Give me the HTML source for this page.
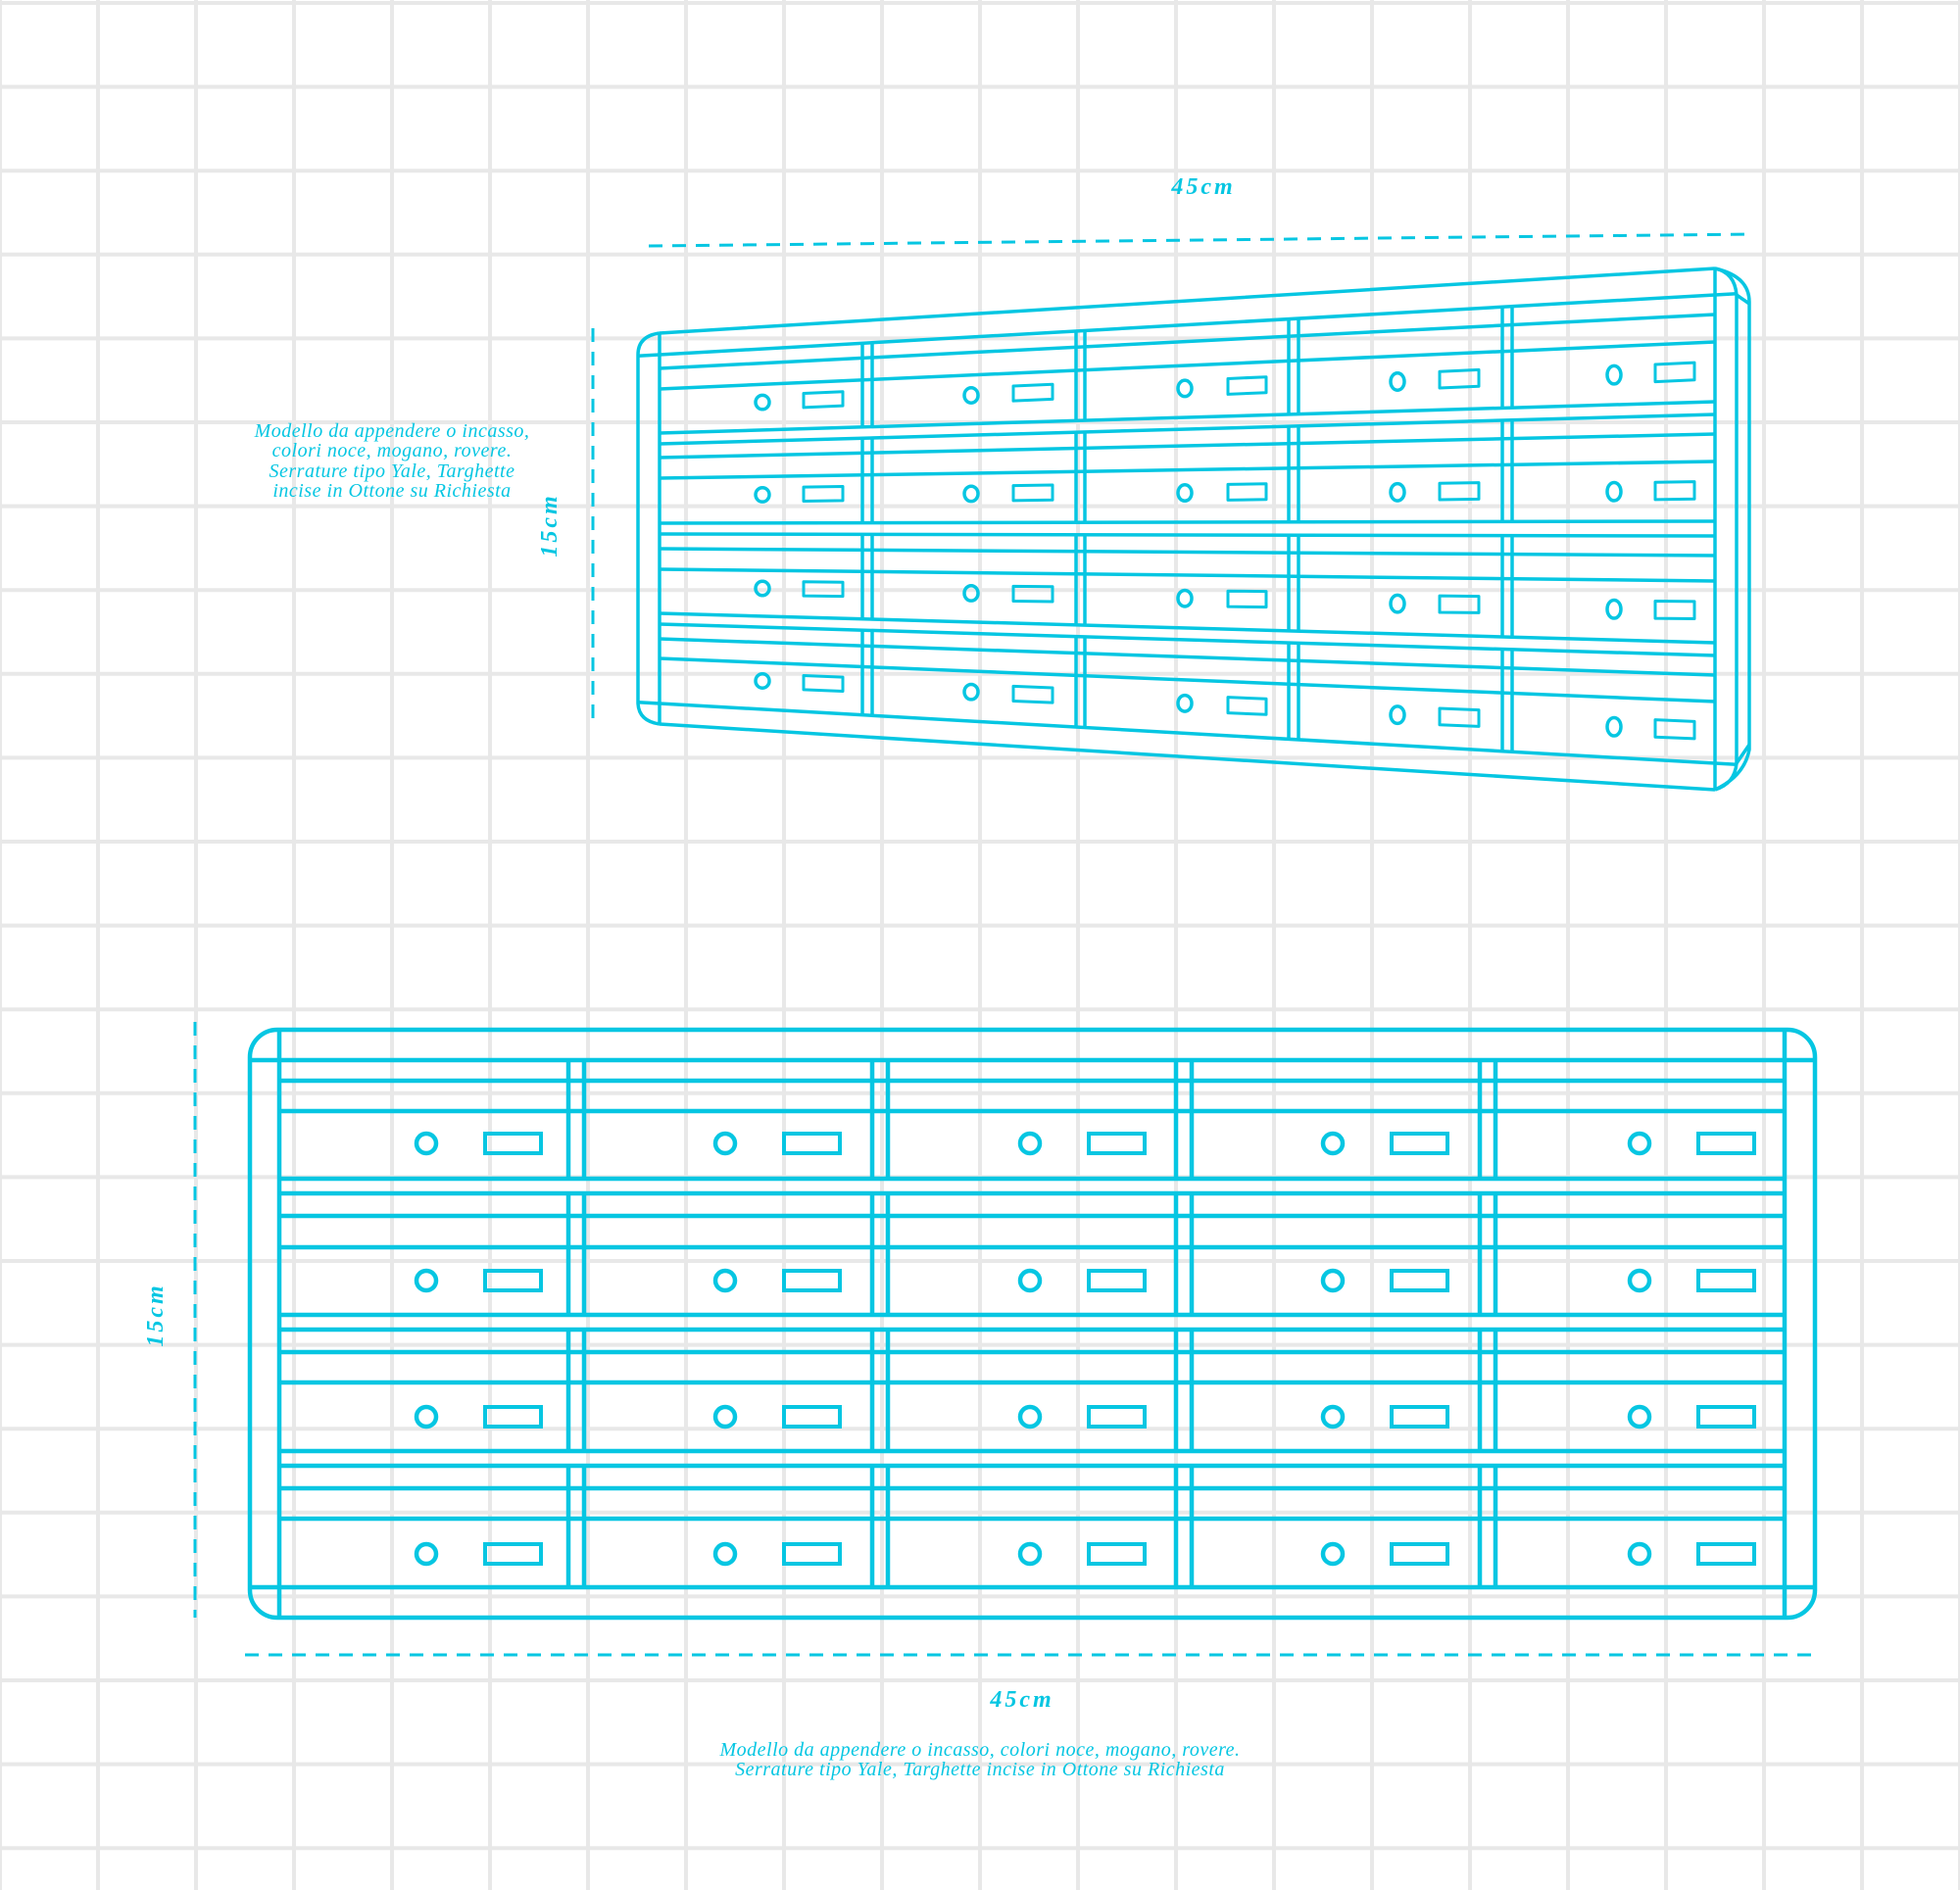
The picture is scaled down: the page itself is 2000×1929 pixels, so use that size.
<!DOCTYPE html>
<html><head><meta charset="utf-8"><style>
html,body{margin:0;padding:0;background:#fff;}
svg{display:block;}
text{font-family:"Liberation Serif","DejaVu Serif",serif;font-style:italic;fill:#06c6e2;}
</style></head><body>
<svg id="s" width="2000" height="1929" viewBox="0 0 2000 1929" xmlns="http://www.w3.org/2000/svg">
<g id="grid" stroke="#e8e8e8" stroke-width="4"></g>
<g id="top" fill="none" stroke="#06c6e2" stroke-width="3.5" stroke-linejoin="round"></g>
<g id="bot" fill="none" stroke="#06c6e2" stroke-width="4.5"></g>
<g fill="none" stroke="#06c6e2" stroke-width="3" stroke-dasharray="14 10">
<line x1="662" y1="251" x2="1786" y2="239"/>
<line x1="605" y1="335" x2="605" y2="740"/>
<line x1="199" y1="1043" x2="199" y2="1651"/>
<line x1="250" y1="1689" x2="1852" y2="1689"/>
</g>
<text x="1228" y="198" font-size="24" font-weight="bold" text-anchor="middle" letter-spacing="3">45cm</text>
<text x="1043" y="1742" font-size="24" font-weight="bold" text-anchor="middle" letter-spacing="3">45cm</text>
<text transform="translate(568,536) rotate(-90)" font-size="24" font-weight="bold" text-anchor="middle" letter-spacing="3">15cm</text>
<text transform="translate(166,1342) rotate(-90)" font-size="24" font-weight="bold" text-anchor="middle" letter-spacing="3">15cm</text>
<g font-size="20" text-anchor="middle" letter-spacing="0.5">
<text x="400" y="446">Modello da appendere o incasso,</text>
<text x="400" y="466">colori noce, mogano, rovere.</text>
<text x="400" y="487">Serrature tipo Yale, Targhette</text>
<text x="400" y="507">incise in Ottone su Richiesta</text>
<text x="1000" y="1792">Modello da appendere o incasso, colori noce, mogano, rovere.</text>
<text x="1000" y="1812">Serrature tipo Yale, Targhette incise in Ottone su Richiesta</text>
</g>
</svg>
<script>
var NS="http://www.w3.org/2000/svg";
function el(p,t,a){var e=document.createElementNS(NS,t);for(var k in a)e.setAttribute(k,a[k]);p.appendChild(e);return e;}
var g=document.getElementById('grid');
for(var x=0;x<=2000;x+=100)el(g,'line',{x1:x,y1:0,x2:x,y2:1929});
for(var y=3;y<=1929;y+=85.6)el(g,'line',{x1:0,y1:y,x2:2000,y2:y});
var b=document.getElementById('bot');
el(b,'rect',{x:255,y:1051,width:1597,height:600,rx:28});
el(b,'line',{x1:285,y1:1051,x2:285,y2:1651});
el(b,'line',{x1:1821,y1:1051,x2:1821,y2:1651});
el(b,'line',{x1:255,y1:1082,x2:1852,y2:1082});
el(b,'line',{x1:255,y1:1620,x2:1852,y2:1620});
[1103,1134,1203,1218,1241,1273,1342,1357,1380,1411,1481,1496,1519,1550].forEach(function(y){el(b,'line',{x1:285,y1:y,x2:1821,y2:y});});
var rows=[[1082,1203],[1218,1342],[1357,1481],[1496,1620]];
var divs=[580,596,890,906,1200,1216,1510,1526];
var cys=[1167,1307,1446,1586];
var cxs=[435,740,1051,1360,1673], rxs=[495,800,1111,1420,1733];
rows.forEach(function(r,i){
 divs.forEach(function(x){el(b,'line',{x1:x,y1:r[0],x2:x,y2:r[1]});});
 for(var j=0;j<5;j++){el(b,'circle',{cx:cxs[j],cy:cys[i],r:10});
  el(b,'rect',{x:rxs[j],y:cys[i]-10,width:57,height:20,'stroke-width':4});}
});
var t=document.getElementById('top');
var XL=673,XR=1750;
function Y(l,r,x){return l+(r-l)*(x-XL)/(XR-XL);}
function hl(l,r,x1,x2){el(t,'line',{x1:x1,y1:Y(l,r,x1),x2:x2,y2:Y(l,r,x2)});}
el(t,'path',{d:"M673,340 L1750,274 M673,739 L1750,806"});
el(t,'path',{d:"M673,340 Q651,343 651,362 L651,718 Q652,736 673,739"});
el(t,'line',{x1:673,y1:340,x2:673,y2:739});
el(t,'line',{x1:1750,y1:274,x2:1750,y2:806});
el(t,'path',{d:"M1750,274 Q1770,278 1772,301 L1772,779 Q1770,800 1750,806"});
el(t,'path',{d:"M1750,274 Q1785,282 1785,308 L1785,765 Q1780,792 1750,806"});
el(t,'path',{d:"M1772,301 L1785,310 M1772,779 L1785,760"});
hl(362,301,651,1772); hl(718,779,651,1772);
var lines=[[376,321],[397,349],[442,410],[453,423],[467,443],[488,471],[534,532],[545,547],[560,567],[581,593],[626,656],[637,669],[652,689],[672,716]];
lines.forEach(function(p){hl(p[0],p[1],XL,XR);});
var trows=[[[362,301],[442,410],[397,349]],[[453,423],[534,532],[488,471]],[[545,547],[626,656],[581,593]],[[637,669],[718,779],[672,716]]];
var tdiv=[880,890,1098,1107,1315,1325,1533,1543];
var tcx=[778,991,1209,1426,1647], trx=[[820,860],[1034,1074],[1253,1292],[1469,1509],[1689,1729]];
trows.forEach(function(r){
 tdiv.forEach(function(x){el(t,'line',{x1:x,y1:Y(r[0][0],r[0][1],x),x2:x,y2:Y(r[1][0],r[1][1],x)});});
 for(var j=0;j<5;j++){
  var cx=tcx[j];var f=0.38+0.12*(cx-XL)/(XR-XL);
  var a=Y(r[2][0],r[2][1],cx), c=Y(r[1][0],r[1][1],cx), cy=a+(c-a)*f;
  var ry=7+2.5*(cx-XL)/(XR-XL);
  el(t,'ellipse',{cx:cx,cy:cy,rx:7,ry:ry});
  var x1=trx[j][0],x2=trx[j][1];
  var d1=cy-Y(r[2][0],r[2][1],cx);
  var y1=Y(r[2][0],r[2][1],x1)+d1,y2=Y(r[2][0],r[2][1],x2)+d1;
  var h=7+2*(cx-XL)/(XR-XL);
  el(t,'polygon',{points:x1+","+(y1-h)+" "+x2+","+(y2-h)+" "+x2+","+(y2+h)+" "+x1+","+(y1+h),'stroke-width':3});
 }
});
</script>
</body></html>
